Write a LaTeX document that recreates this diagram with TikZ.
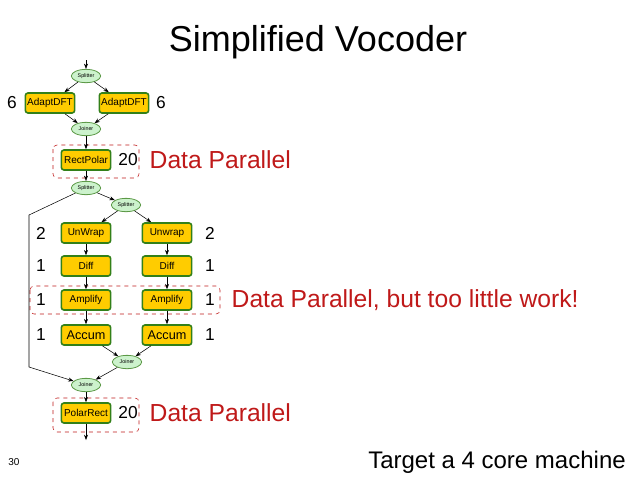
\documentclass[tikz,border=0pt]{standalone}
\usepackage{fontspec}
\setmainfont{Liberation Sans}
\usetikzlibrary{shapes.geometric,arrows.meta}
\definecolor{filtyellow}{rgb}{1.0,0.8,0.0}
\definecolor{filtgreen}{rgb}{0.2,0.5,0.1}
\definecolor{sjgreen}{rgb}{0.8,0.95,0.8}
\definecolor{parred}{rgb}{0.75,0.1,0.1}
\begin{document}
\begin{tikzpicture}
  [x=0.75pt,y=-0.75pt,>={Stealth[length=4pt]},
   filt/.style={rectangle,rounded corners=2pt,fill=filtyellow,draw=filtgreen,line width=1.2pt,minimum width=37pt,minimum height=15pt,inner sep=1pt,font=\fontsize{7.5}{8}\selectfont},
   sj/.style={ellipse,fill=sjgreen,draw=filtgreen!80,line width=0.6pt,minimum width=22pt,minimum height=10pt,inner sep=0pt,font=\fontsize{4}{4}\selectfont},
   num/.style={font=\fontsize{13}{14}\selectfont},
   note/.style={text=parred,font=\fontsize{18.5}{20}\selectfont,anchor=west},
   par/.style={draw=parred,dashed,rounded corners=3pt}]
  \useasboundingbox (0,0) rectangle (638,479);

  \node[font=\fontsize{27}{30}\selectfont] (title) at (318,42) {Simplified Vocoder};

  \coordinate (top) at (86,60);
  \node[sj] (s1) at (86,76) {Splitter};
  \node[filt] (dft1) at (50,103) {AdaptDFT};
  \node[filt] (dft2) at (124,103) {AdaptDFT};
  \node[sj] (j1) at (86,129) {Joiner};
  \node[filt] (rp) at (86,160) {RectPolar};
  \node[sj] (s2) at (86,188) {Splitter};
  \node[sj] (s3) at (126,205) {Splitter};
  \node[filt] (uw1) at (86,233) {UnWrap};
  \node[filt] (uw2) at (167,233) {Unwrap};
  \node[filt] (df1) at (86,266) {Diff};
  \node[filt] (df2) at (167,266) {Diff};
  \node[filt] (am1) at (86,300) {Amplify};
  \node[filt] (am2) at (167,300) {Amplify};
  \node[filt,font=\fontsize{9.5}{10}\selectfont] (ac1) at (86,335) {Accum};
  \node[filt,font=\fontsize{9.5}{10}\selectfont] (ac2) at (167,335) {Accum};
  \node[sj] (j2) at (127,362) {Joiner};
  \node[sj] (j3) at (86,385) {Joiner};
  \node[filt] (pr) at (86,413) {PolarRect};
  \coordinate (bot) at (86,440);
  \coordinate (byA) at (29,215);
  \coordinate (byB) at (29,367);

  % work estimates
  \node[num] (w1) at (12,103) {6};
  \node[num] (w2) at (161,103) {6};
  \node[num] (w3) at (128,160) {20};
  \node[num] (w4) at (41,233) {2};
  \node[num] (w5) at (210,233) {2};
  \node[num] (w6) at (41,266) {1};
  \node[num] (w7) at (210,266) {1};
  \node[num] (w8) at (41,300) {1};
  \node[num] (w9) at (210,300) {1};
  \node[num] (w10) at (41,335) {1};
  \node[num] (w11) at (210,335) {1};
  \node[num] (w12) at (128,413) {20};

  % data parallel regions
  \draw[par] (53,145) rectangle (139,178);
  \draw[par] (30,286) rectangle (220,314);
  \draw[par] (53,398) rectangle (139,432);
  \node[note] (n1) at (145,160) {Data Parallel};
  \node[note] (n2) at (227,300) {Data Parallel, but too little work!};
  \node[note] (n3) at (145,413) {Data Parallel};

  \node[font=\fontsize{7.5}{8}\selectfont] (pg) at (14,462) {30};
  \node[font=\fontsize{18}{20}\selectfont] (tg) at (497,462) {Target a 4 core machine};

  \foreach \from/\to in {top/s1,s1/dft1,s1/dft2,dft1/j1,dft2/j1,j1/rp,rp/s2,s2/s3,s3/uw1,s3/uw2,uw1/df1,uw2/df2,df1/am1,df2/am2,am1/ac1,am2/ac2,ac1/j2,ac2/j2,j2/j3,j3/pr,pr/bot}
    \draw[->] (\from) -- (\to);
  \draw[->] (s2) -- (byA) -- (byB) -- (j3);
\end{tikzpicture}
\end{document}
